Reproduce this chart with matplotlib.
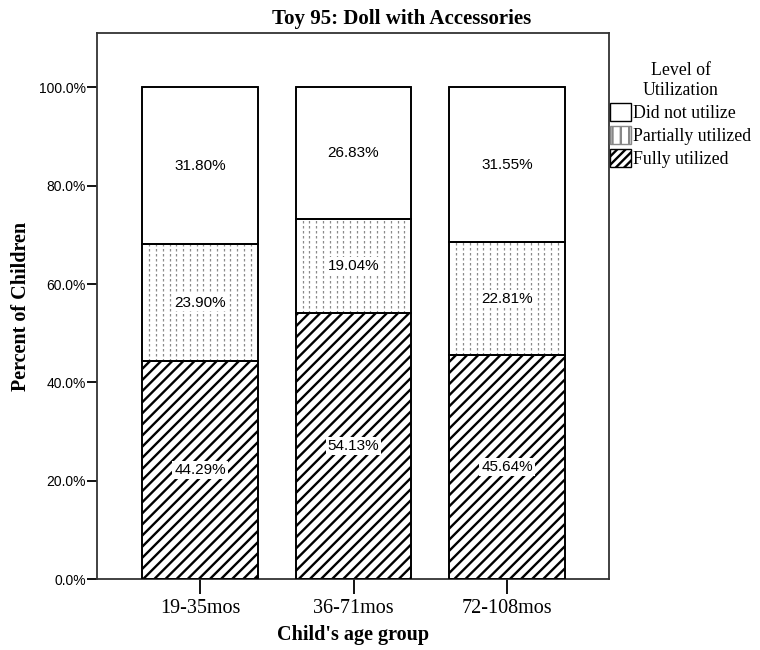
import matplotlib.pyplot as plt
import numpy as np
from matplotlib.patches import Patch

# data
groups = ['19-35mos', '36-71mos', '72-108mos']
fully = [44.29, 54.13, 45.64]
partial = [23.90, 19.04, 22.81]
not_used = [31.80, 26.83, 31.55]
series_names = ['Did not utilize', 'Partially utilized', 'Fully utilized']
yticks = [0, 20, 40, 60, 80, 100]

SERIF = 'Liberation Serif'
SANS = 'Liberation Sans'
plt.rcParams['hatch.linewidth'] = 1.7
plt.rcParams['hatch.color'] = 'black'

fig = plt.figure(figsize=(7.6, 6.5), dpi=100)
ax = fig.add_axes([0.1276, 0.109, 0.6737, 0.84])

x = np.arange(len(groups))
w = 0.75
fully = np.array(fully)
partial = np.array(partial)
not_used = np.array(not_used)

# fully utilized (hatched)
ax.bar(x, fully, w, color='white', edgecolor='black', hatch='///', linewidth=1.2, zorder=2)
# partially utilized (dotted vertical lines)
ax.bar(x, partial, w, bottom=fully, color='white', edgecolor='black', linewidth=1.2, zorder=2)
for i in range(len(x)):
    xs = np.linspace(x[i] - w / 2, x[i] + w / 2, 18)[1:-1]
    ax.vlines(xs, fully[i], fully[i] + partial[i], colors='#8a8a8a',
              linestyles=(0, (2, 2)), linewidth=0.9, zorder=3)
# did not utilize
ax.bar(x, not_used, w, bottom=fully + partial, color='white', edgecolor='black', linewidth=1.2, zorder=2)

# outlines again on top
for b, h in [(0, fully), (fully, partial), (fully + partial, not_used)]:
    ax.bar(x, h, w, bottom=b, fill=False, edgecolor='black', linewidth=1.2, zorder=4)

# value labels
bb = dict(boxstyle='square,pad=0.12', fc='white', ec='none')
for i in range(len(x)):
    ax.text(x[i], fully[i] / 2, '%.2f%%' % fully[i], ha='center', va='center',
            family=SANS, fontsize=11, bbox=bb, zorder=5)
    ax.text(x[i], fully[i] + partial[i] / 2, '%.2f%%' % partial[i], ha='center', va='center',
            family=SANS, fontsize=11, bbox=bb, zorder=5)
    ax.text(x[i], fully[i] + partial[i] + not_used[i] / 2, '%.2f%%' % not_used[i],
            ha='center', va='center', family=SANS, fontsize=11, bbox=bb, zorder=5)

ax.set_xlim(-0.671, 2.664)
ax.set_ylim(0, 111)
ax.set_yticks(yticks)
ax.set_yticklabels(['%.1f%%' % v for v in yticks], family=SANS, fontsize=10)
ax.set_xticks(x)
ax.set_xticklabels(groups, family=SERIF, fontsize=14.5)
ax.tick_params(axis='y', direction='out', length=7, width=1.3, pad=1)
ax.tick_params(axis='x', direction='out', length=11, width=1.3, pad=3)
for s in ax.spines.values():
    s.set_linewidth(1.3)
    s.set_color('#333333')

ax.set_ylabel('Percent of Children', family=SERIF, fontsize=14.5, fontweight='bold', labelpad=6)
ax.set_xlabel("Child's age group", family=SERIF, fontsize=14.5, fontweight='bold', labelpad=5)
fig.text(402 / 760, 1 - 19 / 650, 'Toy 95: Doll with Accessories', ha='center', va='center',
         family=SERIF, fontsize=15, fontweight='bold')

handles = [Patch(facecolor='white', edgecolor='black', linewidth=1.0),
           Patch(facecolor='white', edgecolor='#888888', linewidth=1.0, hatch='||'),
           Patch(facecolor='white', edgecolor='black', linewidth=1.0, hatch='////')]
leg = fig.legend(handles, series_names, loc='upper left', bbox_to_anchor=(610 / 760, 1 - 62 / 650),
                 frameon=False, title='Level of\nUtilization', handlelength=1.2, handleheight=1.2,
                 handletextpad=0.1, labelspacing=0.22, borderaxespad=0, borderpad=0,
                 prop={'family': SERIF, 'size': 12.8})
leg.get_title().set_fontfamily(SERIF)
leg.get_title().set_fontsize(12.8)
leg.get_title().set_multialignment('center')

plt.savefig('out.png', dpi=100)
